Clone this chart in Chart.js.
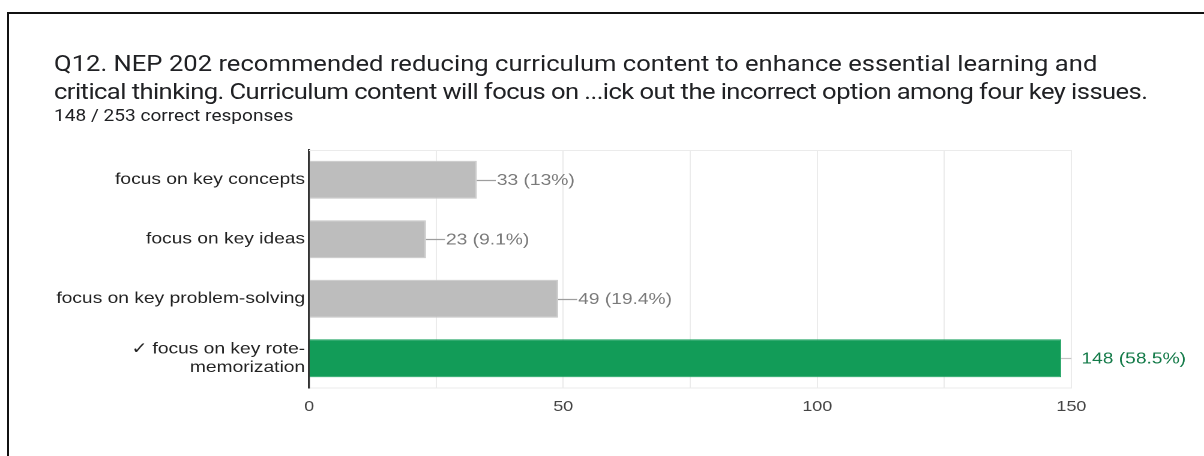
<!DOCTYPE html>
<html>
<head>
<meta charset="utf-8">
<script src="https://cdn.jsdelivr.net/npm/chart.js@4/dist/chart.umd.min.js"></script>
<style>
  html, body { margin: 0; padding: 0; background: #fff; }
  body { width: 1204px; height: 456px; overflow: hidden; position: relative; }
  .frame { position: absolute; left: 7px; top: 12px; right: -10px; bottom: -10px;
           border-top: 2px solid #111; border-left: 2px solid #111; }
  .stretch { position: absolute; left: 0; top: 0; height: 456px; transform-origin: 0 0; }
  .title { position: absolute; left: 45px; top: 50px; font-family: Roboto, sans-serif;
           font-size: 21.3px; line-height: 28px; color: #202124; white-space: nowrap; }
  .title span { display: inline-block; }
  .subtitle { position: absolute; left: 45px; top: 106px; font-family: Roboto, sans-serif;
              font-size: 15.9px; line-height: 20px; color: #202124; white-space: nowrap; }
  canvas { position: absolute; left: 0; top: 0; }
</style>
</head>
<body>
<div class="frame"></div>
<div class="stretch" id="stretch">
  <div class="title"><span id="t1">Q12. NEP 202 recommended reducing curriculum content to enhance essential learning and</span><br><span id="t2">critical thinking. Curriculum content will focus on ...ick out the incorrect option among four key issues.</span></div>
  <div class="subtitle" id="subtitle"></div>
  <canvas id="chart"></canvas>
</div>
<script>
// Answer options, response counts and shares
const categories = [
  'focus on key concepts',
  'focus on key ideas',
  'focus on key problem-solving',
  ['\u2713 focus on key rote-', 'memorization']
];
const responses = [33, 23, 49, 148];
const shares = ['13%', '9.1%', '19.4%', '58.5%'];
const correctIndex = 3;
const correctCount = 148;
const totalCount = 253;
const xTickLabels = [0, 50, 100, 150];

// Horizontal stretch of the whole panel; positions below are given in page pixels
const S = 1.2;
const W = Math.round(1204 / S);
const H = 456;
const px = v => v / S;

document.getElementById('stretch').style.width = W + 'px';
document.getElementById('stretch').style.transform = 'scaleX(' + (1204 / W) + ')';
document.getElementById('subtitle').textContent = correctCount + ' / ' + totalCount + ' correct responses';

// Fit each title line to its set width by adjusting letter spacing
function fitLine(id, widthPx) {
  const el = document.getElementById(id);
  el.style.letterSpacing = '0px';
  const natural = el.getBoundingClientRect().width / (1204 / W);
  const n = el.textContent.length;
  el.style.letterSpacing = ((px(widthPx) - natural) / n) + 'px';
}
function fitTitle() {
  fitLine('t1', 1043);
  fitLine('t2', 1093);
}
fitTitle();
if (document.fonts && document.fonts.ready) document.fonts.ready.then(fitTitle);

const GREY = '#bdbdbd';
const GREEN = '#129c58';
const AREA = { left: px(309), right: px(1071), top: 150, bottom: 388 };

const canvas = document.getElementById('chart');
canvas.width = W;
canvas.height = H;

// Outline above the plot and value annotations with short leader lines
const annotate = {
  id: 'annotate',
  beforeDatasetsDraw(chart) {
    const { ctx, chartArea } = chart;
    ctx.save();
    ctx.strokeStyle = '#ebebeb';
    ctx.lineWidth = 1;
    ctx.beginPath();
    ctx.moveTo(chartArea.left, chartArea.top + 0.5);
    ctx.lineTo(chartArea.right, chartArea.top + 0.5);
    ctx.stroke();
    ctx.restore();
  },
  afterDatasetsDraw(chart) {
    const { ctx, chartArea } = chart;
    const meta = chart.getDatasetMeta(0);
    ctx.save();
    ctx.font = '16px "Liberation Sans", Arial, sans-serif';
    ctx.textBaseline = 'middle';
    ctx.textAlign = 'left';
    meta.data.forEach((bar, i) => {
      const text = responses[i] + ' (' + shares[i] + ')';
      const w = ctx.measureText(text).width;
      const stem = px(19);
      let stemEnd = bar.x + stem;
      let textX = stemEnd + px(1);
      if (stemEnd + w > chartArea.right) {
        stemEnd = chartArea.right;
        textX = chartArea.right + px(10);
      }
      const isCorrect = i === correctIndex;
      ctx.strokeStyle = isCorrect ? '#c4c4c4' : '#9e9e9e';
      ctx.lineWidth = 1.2;
      ctx.beginPath();
      ctx.moveTo(bar.x, Math.round(bar.y) + 0.5);
      ctx.lineTo(stemEnd, Math.round(bar.y) + 0.5);
      ctx.stroke();
      ctx.fillStyle = isCorrect ? '#137a48' : '#7a7a7a';
      ctx.fillText(text, textX, bar.y + 1);
    });
    ctx.restore();
  }
};

new Chart(canvas, {
  type: 'bar',
  data: {
    labels: categories,
    datasets: [{
      data: responses,
      backgroundColor: responses.map((_, i) => i === correctIndex ? GREEN : GREY),
      borderColor: responses.map((_, i) => i === correctIndex ? '#2aa86a' : '#cacaca'),
      borderWidth: 1,
      categoryPercentage: 1,
      barPercentage: 0.64
    }]
  },
  options: {
    indexAxis: 'y',
    responsive: false,
    animation: false,
    devicePixelRatio: 2,
    layout: { padding: { top: AREA.top, right: W - AREA.right, left: 0, bottom: 0 } },
    plugins: { legend: { display: false }, tooltip: { enabled: false }, title: { display: false } },
    scales: {
      x: {
        min: 0,
        max: 150,
        afterFit(scale) { scale.height = H - AREA.bottom; },
        afterBuildTicks(scale) {
          scale.ticks = [0, 25, 50, 75, 100, 125, 150].map(v => ({ value: v }));
        },
        ticks: {
          padding: 10,
          color: '#444',
          font: { family: '"Liberation Sans", Arial, sans-serif', size: 15 },
          callback: v => xTickLabels.includes(v) ? String(v) : ''
        },
        grid: {
          drawTicks: false,
          lineWidth: 1,
          color: c => c.tick && c.tick.value === 0 ? 'rgba(0,0,0,0)' : '#ebebeb'
        },
        border: { display: true, color: '#ebebeb', width: 1 }
      },
      y: {
        afterFit(scale) { scale.width = AREA.left; },
        ticks: {
          padding: px(4),
          color: '#222',
          font: { family: '"Liberation Sans", Arial, sans-serif', size: 16, lineHeight: 1.15 }
        },
        grid: { display: false, drawTicks: false },
        border: { display: true, color: '#333', width: px(2) }
      }
    }
  },
  plugins: [annotate]
});
</script>
</body>
</html>
